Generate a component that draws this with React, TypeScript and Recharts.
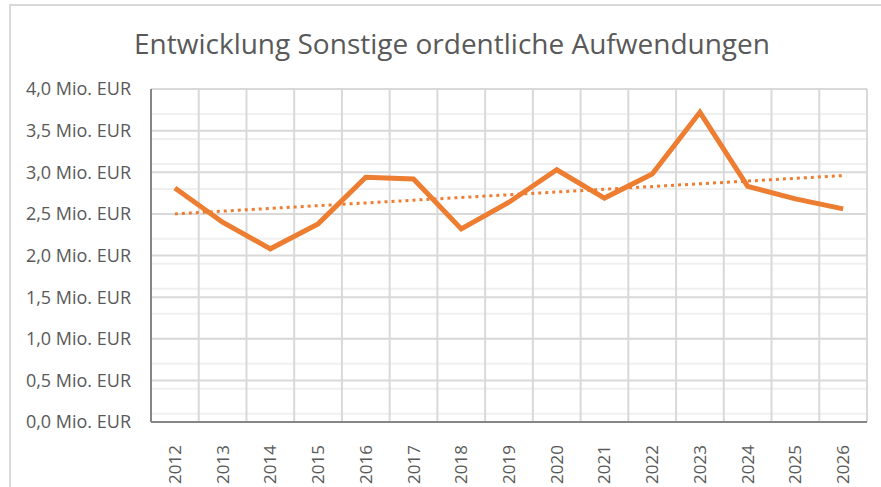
import React from "react";
import {
  CartesianGrid,
  Line,
  LineChart,
  ReferenceLine,
  XAxis,
  YAxis,
} from "recharts";

const years = [2012, 2013, 2014, 2015, 2016, 2017, 2018, 2019, 2020, 2021, 2022, 2023, 2024, 2025, 2026];
const values = [2.81, 2.4, 2.08, 2.38, 2.94, 2.92, 2.32, 2.64, 3.03, 2.69, 2.98, 3.72, 2.83, 2.68, 2.56];
const yTicks = [0, 0.5, 1, 1.5, 2, 2.5, 3, 3.5, 4];
const minorTicks = [
  0, 0.1, 0.2, 0.3, 0.4, 0.5, 0.6, 0.7, 0.8, 0.9, 1, 1.1, 1.2, 1.3, 1.4, 1.5, 1.6, 1.7, 1.8, 1.9,
  2, 2.1, 2.2, 2.3, 2.4, 2.5, 2.6, 2.7, 2.8, 2.9, 3, 3.1, 3.2, 3.3, 3.4, 3.5, 3.6, 3.7, 3.8, 3.9, 4,
];
const bounds = [2011.5, 2012.5, 2013.5, 2014.5, 2015.5, 2016.5, 2017.5, 2018.5, 2019.5, 2020.5, 2021.5, 2022.5, 2023.5, 2024.5, 2025.5, 2026.5];
// linear trend, start and end
const trendStart = 2.5;
const trendEnd = 2.96;

const data = years.map((y, i) => ({ year: y, value: values[i] }));

const FONT = "'Open Sans', sans-serif";
const ORANGE = "#ED7D31";

const fmt = (v: number) => v.toFixed(1).replace(".", ",") + " Mio. EUR";

function YearTick(props: any) {
  const { x, y, payload } = props;
  return (
    <g transform={`translate(${x},${y + 15}) rotate(-90)`}>
      <text textAnchor="end" dy={6} fill="#595959" fontSize={17} fontFamily={FONT}>
        {payload.value}
      </text>
    </g>
  );
}

export default function App() {
  return (
    <div style={{ position: "absolute", left: 0, top: 0, width: 881, height: 487, overflow: "hidden", background: "#fff" }}>
      <div
        style={{
          position: "absolute",
          left: 9,
          top: 4,
          width: 900,
          height: 500,
          border: "2px solid #d9d9d9",
        }}
      />
      <div style={{ position: "absolute", left: 0, top: 0 }}>
        <LineChart width={881} height={487} data={data} margin={{ top: 89, right: 14, bottom: 0, left: 0 }}>
          <text x={452} y={54} textAnchor="middle" fill="#595959" fontSize={28} fontFamily={FONT}>
            Entwicklung Sonstige ordentliche Aufwendungen
          </text>
          <CartesianGrid vertical={false} horizontalValues={minorTicks} stroke="#f0f0f0" strokeWidth={2} />
          <CartesianGrid verticalValues={bounds} horizontalValues={yTicks} stroke="#d9d9d9" strokeWidth={2} />
          <YAxis
            type="number"
            domain={[0, 4]}
            ticks={yTicks}
            width={151}
            tickFormatter={fmt}
            tickSize={0}
            tickMargin={20}
            tick={{ fill: "#595959", fontSize: 18, fontFamily: FONT }}
            axisLine={{ stroke: "#868686", strokeWidth: 2 }}
            tickLine={false}
          />
          <XAxis
            type="number"
            dataKey="year"
            domain={[2011.5, 2026.5]}
            ticks={years}
            height={65}
            tick={<YearTick />}
            tickLine={false}
            axisLine={{ stroke: "#868686", strokeWidth: 2 }}
            interval={0}
          />
          <ReferenceLine
            segment={[
              { x: years[0], y: trendStart },
              { x: years[years.length - 1], y: trendEnd },
            ]}
            stroke={ORANGE}
            strokeWidth={3}
            strokeDasharray="3 4"
          />
          <Line
            dataKey="value"
            stroke={ORANGE}
            strokeWidth={5}
            dot={false}
            isAnimationActive={false}
          />
        </LineChart>
      </div>
    </div>
  );
}
